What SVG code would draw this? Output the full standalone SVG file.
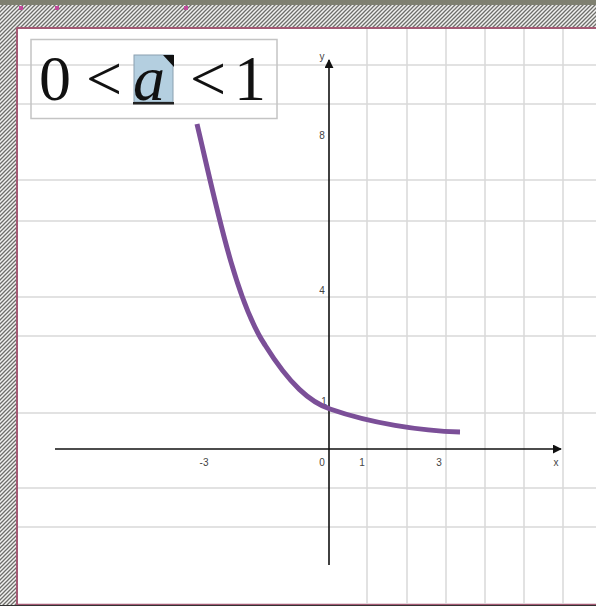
<svg xmlns="http://www.w3.org/2000/svg" width="596" height="606" viewBox="0 0 596 606">
  <defs>
    <pattern id="hatch" x="0" y="0" width="4" height="4" patternUnits="userSpaceOnUse">
      <rect width="4" height="4" fill="#f2f2f0"/>
      <path d="M0,4 L4,0 M-1,1 L1,-1 M3,5 L5,3" stroke="#6e6e6a" stroke-width="1.3"/>
    </pattern>
    <marker id="arrow" viewBox="0 0 10 10" refX="9" refY="5" markerWidth="9" markerHeight="9" markerUnits="userSpaceOnUse" orient="auto">
      <path d="M0,0 L10,5 L0,10 Z" fill="#111"/>
    </marker>
    <style>
      .grid line { stroke: #d9d9d9; stroke-width: 1.5; }
      .axis { stroke: #111; stroke-width: 1.6; fill: none; }
      .tick { font-family: "Liberation Sans", Arial, sans-serif; font-size: 10px; fill: #444; }
      .big { font-family: "Liberation Serif", "Times New Roman", serif; font-size: 64px; fill: #111; }
    </style>
  </defs>

  <!-- background / frame -->
  <rect x="0" y="0" width="596" height="606" fill="url(#hatch)"/>
  <rect x="0" y="0" width="596" height="5" fill="#7f8070"/>
  <rect x="17" y="28" width="579" height="576" fill="#ffffff"/>
  <path d="M17,605 L17,28 L596,28" fill="none" stroke="#a45a74" stroke-width="2"/>
  <line x1="17" y1="604.5" x2="596" y2="604.5" stroke="#a45a74" stroke-width="1.5"/>
  <rect x="0" y="605" width="596" height="1" fill="#333"/>
  <g fill="#c04a9a">
    <rect x="19" y="6" width="4" height="4"/>
    <rect x="55" y="6" width="4" height="4"/>
    <rect x="184" y="6" width="4" height="4"/>
  </g>

  <!-- grid -->
  <g class="grid">
    <line x1="18" y1="65" x2="596" y2="65"/>
    <line x1="18" y1="104" x2="596" y2="104"/>
    <line x1="18" y1="180" x2="596" y2="180"/>
    <line x1="18" y1="221" x2="596" y2="221"/>
    <line x1="18" y1="297" x2="596" y2="297"/>
    <line x1="18" y1="336" x2="596" y2="336"/>
    <line x1="18" y1="413" x2="596" y2="413"/>
    <line x1="18" y1="488" x2="596" y2="488"/>
    <line x1="18" y1="527" x2="596" y2="527"/>
    <line x1="367" y1="29" x2="367" y2="604"/>
    <line x1="407" y1="29" x2="407" y2="604"/>
    <line x1="446" y1="29" x2="446" y2="604"/>
    <line x1="485" y1="29" x2="485" y2="604"/>
    <line x1="524" y1="29" x2="524" y2="604"/>
    <line x1="563" y1="29" x2="563" y2="604"/>
  </g>

  <!-- axes -->
  <g id="axes">
    <line class="axis" x1="55" y1="449" x2="561" y2="449" marker-end="url(#arrow)"/>
    <line class="axis" x1="329" y1="565" x2="329" y2="60" marker-end="url(#arrow)"/>
  </g>

  <!-- tick labels -->
  <g id="labels">
    <text class="tick" x="322" y="60" text-anchor="middle">y</text>
    <text class="tick" x="322" y="139" text-anchor="middle">8</text>
    <text class="tick" x="322" y="294" text-anchor="middle">4</text>
    <text class="tick" x="324" y="405" text-anchor="middle">1</text>
    <text class="tick" x="204" y="466" text-anchor="middle">-3</text>
    <text class="tick" x="322" y="466" text-anchor="middle">0</text>
    <text class="tick" x="362" y="466" text-anchor="middle">1</text>
    <text class="tick" x="439" y="466" text-anchor="middle">3</text>
    <text class="tick" x="556" y="466" text-anchor="middle">x</text>
  </g>

  <!-- curve -->
  <g id="curve">
    <path d="M197,124 C215,200 235,300 265,345 C290,385 310,402 330,409 C370,423 420,431 460,432" fill="none" stroke="#7b4f98" stroke-width="5" stroke-linecap="butt"/>
  </g>

  <!-- title box -->
  <g id="title">
    <rect x="31" y="39.5" width="246" height="79" fill="none" stroke="#c4c4c4" stroke-width="1.5"/>
    <rect x="134" y="55" width="39" height="47" fill="#b4cfe0" stroke="#8aa0b0" stroke-width="1"/>
    <text class="big" x="39" y="100">0</text>
    <text class="big" x="86" y="100">&lt;</text>
    <text class="big" x="133" y="100" font-style="italic">a</text>
    <polygon points="163,55 174,55 174,67" fill="#111"/>
    <rect x="133" y="102" width="41" height="2.5" fill="#222"/>
    <text class="big" x="190" y="100">&lt;</text>
    <text class="big" x="234" y="100">1</text>
  </g>
</svg>
